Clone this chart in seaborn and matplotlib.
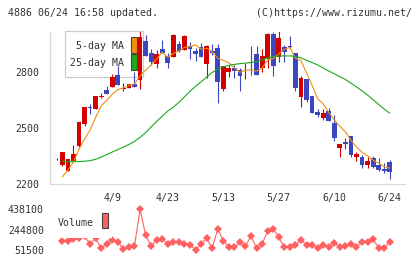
import matplotlib
matplotlib.use("Agg")
import matplotlib.pyplot as plt
import matplotlib.patches as patches
import numpy as np
import seaborn as sns

# daily OHLC, 3/26 .. 6/24 (trading-day index 0..60)
opens = [2333, 2302, 2272, 2326, 2404, 2521, 2612, 2601, 2664, 2702,
         2720, 2782, 2709, 2714, 2734, 2755, 2963, 2897, 2839, 2920,
         2883, 2879, 2947, 2915, 2936, 2911, 2929, 2840, 2911, 2924,
         2707, 2800, 2821, 2808, 2801, 2853, 2893, 2818, 2866, 3000,
         2876, 2933, 2938, 2897, 2666, 2759, 2670, 2587, 2551, 2592,
         2525, 2395, 2425, 2457, 2347, 2347, 2303, 2342, 2303, 2281, 2319]
highs = [2338, 2372, 2335, 2409, 2533, 2613, 2627, 2672, 2684, 2723,
         2787, 2830, 2738, 2736, 2798, 3020, 2995, 2920, 2915, 2968,
         2897, 3000, 2960, 2992, 2959, 2924, 2951, 2942, 2947, 2947,
         2832, 2835, 2835, 2821, 2847, 2936, 2936, 2919, 3007, 3011,
         3015, 2942, 2990, 2900, 2777, 2760, 2672, 2600, 2600, 2605,
         2569, 2416, 2445, 2458, 2374, 2356, 2347, 2350, 2338, 2315, 2329]
lows = [2330, 2297, 2270, 2325, 2397, 2512, 2574, 2600, 2658, 2680,
        2719, 2727, 2697, 2712, 2718, 2707, 2880, 2835, 2818, 2898,
        2818, 2877, 2905, 2913, 2866, 2858, 2877, 2764, 2888, 2631,
        2697, 2773, 2768, 2697, 2761, 2782, 2780, 2800, 2818, 2778,
        2853, 2853, 2919, 2697, 2610, 2640, 2579, 2557, 2542, 2537,
        2432, 2347, 2388, 2347, 2326, 2288, 2288, 2288, 2271, 2262, 2230]
closes = [2336, 2371, 2334, 2361, 2531, 2611, 2606, 2670, 2667, 2682,
          2773, 2729, 2712, 2734, 2720, 2986, 2885, 2850, 2893, 2900,
          2847, 2995, 2911, 2990, 2919, 2894, 2879, 2938, 2900, 2746,
          2830, 2821, 2803, 2778, 2804, 2844, 2782, 2883, 3000, 2831,
          2977, 2906, 2928, 2714, 2764, 2649, 2581, 2569, 2578, 2539,
          2445, 2415, 2417, 2356, 2361, 2303, 2324, 2294, 2276, 2273, 2265]

# moving averages and volume for days 1..60
ma5 = [2240, 2276, 2318, 2386, 2442, 2489, 2556, 2617, 2647, 2680,
       2704, 2713, 2726, 2734, 2776, 2807, 2835, 2867, 2903, 2875,
       2897, 2909, 2929, 2932, 2942, 2919, 2924, 2906, 2871, 2859,
       2847, 2820, 2796, 2807, 2810, 2802, 2818, 2863, 2868, 2895,
       2919, 2928, 2871, 2858, 2792, 2727, 2655, 2628, 2583, 2542,
       2509, 2479, 2434, 2399, 2370, 2352, 2328, 2312, 2294, 2286]
ma25 = [2322, 2320, 2320, 2321, 2323, 2326, 2333, 2345, 2358, 2372,
        2385, 2398, 2412, 2428, 2450, 2475, 2505, 2535, 2562, 2590,
        2610, 2636, 2665, 2695, 2722, 2745, 2770, 2795, 2812, 2825,
        2833, 2838, 2842, 2845, 2848, 2852, 2862, 2872, 2880, 2883,
        2883, 2883, 2881, 2872, 2860, 2848, 2835, 2819, 2803, 2788,
        2772, 2758, 2738, 2718, 2697, 2675, 2650, 2625, 2600, 2578]
volume = [137800, 132100, 151300, 163700, 182900, 103300, 158900, 64900, 106200, 144600,
          128200, 55300, 74500, 87000, 438100, 192500, 89900, 144600, 154100, 106200,
          128200, 122500, 106200, 96600, 51500, 106200, 160900, 64900, 250000, 137800,
          74500, 74500, 122500, 87000, 182900, 64900, 106200, 230900, 252000, 170500,
          74500, 74500, 96600, 144600, 96600, 96600, 64900, 96600, 74500, 112900,
          80300, 87000, 106200, 80300, 128200, 122500, 151300, 64900, 64900, 128200]

date_pos = [10, 20, 30, 40, 50, 60]
date_labels = ["4/9", "4/23", "5/13", "5/27", "6/10", "6/24"]
price_ticks = [2200, 2500, 2800]
vol_ticks = [51500, 244800, 438100]

RED, BLUE = "#d40000", "#3c46be"
ORANGE, GREEN = "#f0900f", "#1aab1a"
VOLC = "#ff6060"
GRID = "#d8d8d8"
TXT = "#333333"

sns.set_style("white")
plt.rcParams["font.family"] = ["DejaVu Sans Mono"]
plt.rcParams["font.size"] = 7.1

W, H = 420, 259
def fx(x): return x / W
def fy(y): return 1 - y / H

fig = plt.figure(figsize=(4.2, 2.59), dpi=100, facecolor="white")
xlim = (-1.225, 62.74)

# price panel
ax = fig.add_axes([fx(50), fy(184.3), fx(405) - fx(50), fy(31.5) - fy(184.3)])
days = np.arange(len(closes))
o = np.array(opens); c = np.array(closes)
cols = [RED if cc >= oo else BLUE for oo, cc in zip(o, c)]
ax.vlines(days, lows, highs, colors=cols, lw=0.8, zorder=2)
body = np.maximum(np.abs(c - o), 4)
ax.bar(days, body, bottom=np.minimum(o, c), width=0.85, color=cols, lw=0, zorder=3)

ma_days = np.arange(1, 61)
sns.lineplot(x=ma_days, y=ma5, color=ORANGE, lw=0.8, ax=ax, zorder=4)
sns.lineplot(x=ma_days, y=ma25, color=GREEN, lw=0.8, ax=ax, zorder=4)

ax.set_xlim(*xlim)
ax.set_ylim(2200, 3013)
ax.set_yticks(price_ticks)
ax.set_yticklabels([str(t) for t in price_ticks], color=TXT)
ax.set_xticks(date_pos)
ax.set_xticklabels(date_labels, color=TXT)
ax.set_xticks(np.linspace(xlim[0], xlim[1], 12), minor=True)
ax.tick_params(axis="x", which="major", length=0, pad=6.5)
ax.tick_params(axis="x", which="minor", direction="inout", length=7.2, width=0.9, color=GRID)
ax.tick_params(axis="y", direction="inout", length=5, width=0.9, color=GRID, pad=5.4)
for s in ["top", "right"]:
    ax.spines[s].set_visible(False)
for s in ["left", "bottom"]:
    ax.spines[s].set_color(GRID)
    ax.spines[s].set_linewidth(0.9)
ax.set_xlabel(""); ax.set_ylabel("")

# MA legend box (sits under the candles)
tf = fig.transFigure
ax.add_patch(patches.Rectangle((fx(65), fy(77.3)), fx(143) - fx(65), fy(30.7) - fy(77.3),
                               transform=tf, facecolor="white", edgecolor="#cccccc",
                               lw=0.9, zorder=1, clip_on=False))
ax.text(fx(124), fy(46), "5-day MA", transform=tf, ha="right", va="center", color=TXT, zorder=1.5)
ax.text(fx(124), fy(63.3), "25-day MA", transform=tf, ha="right", va="center", color=TXT, zorder=1.5)
for y0, y1, col in [(37.3, 53.3, ORANGE), (54.3, 70, GREEN)]:
    ax.add_patch(patches.Rectangle((fx(131), fy(y1)), fx(137.3) - fx(131), fy(y0) - fy(y1),
                                   transform=tf, facecolor=col, edgecolor="#444444",
                                   lw=0.8, zorder=1.5, clip_on=False))

# volume panel
vax = fig.add_axes([fx(50), fy(249.7), fx(405) - fx(50), fy(209.3) - fy(249.7)])
sns.lineplot(x=ma_days, y=volume, color=VOLC, lw=0.8, marker="D", markersize=3.9,
             markeredgewidth=0, ax=vax, clip_on=False, zorder=3)
vax.set_xlim(*xlim)
vax.set_ylim(vol_ticks[0], vol_ticks[-1])
vax.set_yticks(vol_ticks)
vax.set_yticklabels([str(t) for t in vol_ticks], color=TXT)
vax.set_xticks([])
vax.tick_params(axis="y", length=0, pad=4.3)
for s in vax.spines.values():
    s.set_visible(False)
vax.set_xlabel(""); vax.set_ylabel("")
vax.patch.set_alpha(0)

vax.add_patch(patches.Rectangle((fx(53), fy(237.7)), fx(112) - fx(53), fy(205) - fy(237.7),
                                transform=tf, facecolor="white", edgecolor="none",
                                zorder=5, clip_on=False))
vax.text(fx(58), fy(222.7), "Volume", transform=tf, ha="left", va="center", color=TXT, zorder=6)
vax.add_patch(patches.Rectangle((fx(101.7), fy(228.3)), fx(107.7) - fx(101.7), fy(213.3) - fy(228.3),
                                transform=tf, facecolor=VOLC, edgecolor="#444444",
                                lw=0.8, zorder=6, clip_on=False))

fig.text(fx(8), fy(12.5), "4886 06/24 16:58 updated.", ha="left", va="center", color=TXT)
fig.text(fx(412), fy(12.5), "(C)https://www.rizumu.net/", ha="right", va="center", color=TXT)

fig.savefig("out.png", dpi=100, facecolor="white")
